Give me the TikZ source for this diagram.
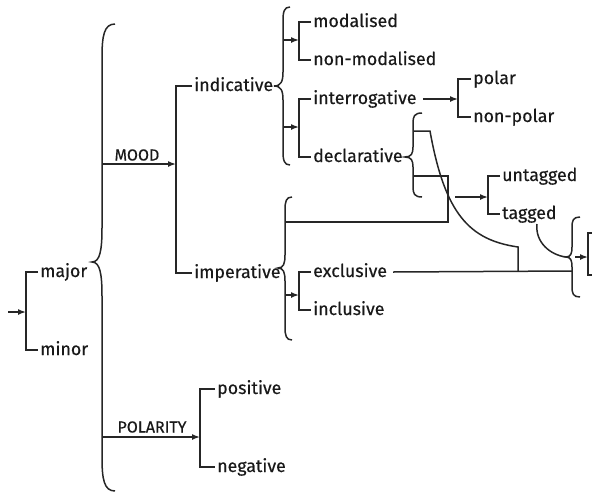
\documentclass[tikz,border=0pt]{standalone}
\usepackage{fontspec}
\setmainfont{Fira Sans}
\usetikzlibrary{arrows.meta}
\newcommand{\LBrace}[7]{% stem x, top y, bottom y, tip y, hook, depth, end radius
  \draw[ln] ({#1+#5},{#2}) .. controls ({#1+0.15*#5},{#2}) and ({#1},{#2+0.35*#7}) .. ({#1},{#2+#7})
    -- ({#1},{#4-#7}) .. controls ({#1},{#4-0.35*#7}) and ({#1-0.2*#6},{#4}) .. ({#1-#6},{#4})
    .. controls ({#1-0.2*#6},{#4}) and ({#1},{#4+0.35*#7}) .. ({#1},{#4+#7})
    -- ({#1},{#3-#7}) .. controls ({#1},{#3-0.35*#7}) and ({#1+0.15*#5},{#3}) .. ({#1+#5},{#3});}
\tikzset{
  ln/.style={line width=1.5pt, draw=black!85},
  arr/.style={ln, -{Latex[length=8pt,width=6pt]}},
  lbl/.style={anchor=west, inner xsep=2pt, inner ysep=0pt, text height=10pt, text depth=0pt, font=\fontsize{17.8}{18}\selectfont\addfontfeature{FakeBold=0.4}, text=black!90},
  caplbl/.style={inner sep=0pt, font=\fontsize{16}{16}\selectfont\addfontfeature{FakeBold=0.4}, text=black!90}
}
\begin{document}
\begin{tikzpicture}[x=1pt,y=-1pt]
\useasboundingbox (0,0) rectangle (592,493);
% major/minor
\node[lbl] (major) at (38,272) {major};
\node[lbl] (minor) at (38,350) {minor};
\coordinate (entry) at (8,312);
\coordinate (mmb) at (26,312);
\draw[ln] (major.west) -| (mmb) |- (minor.west);
\draw[arr] (entry) -- (mmb);
% big brace
\LBrace{102}{24}{491}{262}{13}{10}{34}
% MOOD
\coordinate (bigA) at (102,164);
\coordinate (moodb) at (176,164);
\node[caplbl] (mood) at (137,155) {MOOD};
\draw[arr] (bigA) -- (moodb);
\node[lbl] (indic) at (192,86) {indicative};
\node[lbl] (imper) at (192,273) {imperative};
\draw[ln] (indic.west) -| (moodb) |- (imper.west);
% indicative brace
\LBrace{283}{7}{165}{86}{7}{9}{14}
\coordinate (ib1) at (283,40);
\coordinate (ib2) at (283,127);
\node[lbl] (modal) at (311,22) {modalised};
\node[lbl] (nonmodal) at (311,60) {non-modalised};
\coordinate (mb) at (299,40);
\draw[ln] (modal.west) -| (mb) |- (nonmodal.west);
\draw[arr] (ib1) -- (mb);
\node[lbl] (interr) at (311,99) {interrogative};
\node[lbl] (decl) at (311,157) {declarative};
\coordinate (ibb) at (299,127);
\draw[ln] (interr.west) -| (ibb) |- (decl.west);
\draw[arr] (ib2) -- (ibb);
% polar
\node[lbl] (polar) at (471,79) {polar};
\node[lbl] (nonpolar) at (471,117) {non-polar};
\coordinate (pb) at (458,99);
\draw[ln] (polar.west) -| (pb) |- (nonpolar.west);
\draw[arr] ([xshift=4pt]interr.east) -- (pb);
% declarative brace
\LBrace{413}{113}{197}{157}{9}{8}{10}
\coordinate (d1) at (413,131);
\coordinate (d2) at (413,176);
% imperative brace
\LBrace{285}{197}{340}{268}{7}{7}{13}
\coordinate (imp1) at (285,222);
\coordinate (imp2) at (285,295);
% exclusive/inclusive
\node[lbl] (excl) at (311,272) {exclusive};
\node[lbl] (incl) at (311,310) {inclusive};
\coordinate (eb) at (299,295);
\draw[ln] (excl.west) -| (eb) |- (incl.west);
\draw[arr] (imp2) -- (eb);
% untagged / tagged
\node[lbl] (untag) at (500,176) {untagged};
\node[lbl] (tag) at (500,214) {tagged};
\coordinate (ub) at (488,197);
\coordinate (ua) at (455,197);
\draw[ln] (untag.west) -| (ub) |- (tag.west);
\draw[arr] (ua) -- (ub);
% gating lines
\coordinate (g1) at (518,247);
\coordinate (g2) at (518,271);
\draw[ln] (d1) -- (430,131) .. controls (445,215) and (470,240) .. (g1) -- (g2);
\draw[ln] (d2) -| (448,222) -- (imp1);
% right brace
\LBrace{572}{217}{297}{257}{8}{6}{10}
\coordinate (rb) at (572,271);
\draw[ln] ([xshift=4pt]excl.east) -- (rb);
\coordinate (tg) at (537,224);
\coordinate (rtipL) at (566,257);
\draw[ln] (tg) .. controls (535,242) and (550,255) .. (rtipL);
\coordinate (rtip) at (575,257);
\coordinate (rbr) at (588,257);
\draw[arr] (rtip) -- (rbr);
\draw[ln] (594,233) -- (588,233) -- (588,275) -- (594,275);
% POLARITY
\coordinate (bigB) at (102,437);
\coordinate (polb) at (200,437);
\node[caplbl] (pol) at (152,427) {POLARITY};
\draw[arr] (bigB) -- (polb);
\node[lbl] (pos) at (215,389) {positive};
\node[lbl] (neg) at (215,467) {negative};
\draw[ln] (pos.west) -| (polb) |- (neg.west);
\end{tikzpicture}
\end{document}
